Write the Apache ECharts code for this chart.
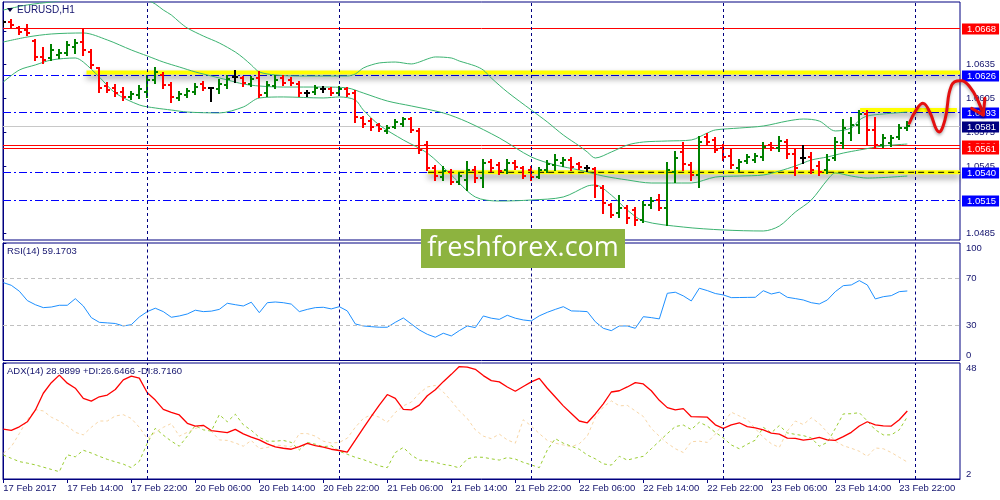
<!DOCTYPE html>
<html><head><meta charset="utf-8">
<script src="https://cdn.jsdelivr.net/npm/echarts@6/dist/echarts.min.js"></script>
<style>html,body{margin:0;padding:0;background:#fff}#c{width:1000px;height:500px}</style>
</head><body><div id="c"></div>
<script>
// ---------------- DATA ----------------
const symbolTitle = 'EURUSD,H1';
const rsiTitle = 'RSI(14) 59.1703';
const adxTitle = 'ADX(14) 28.9899 +DI:26.6466 -DI:8.7160';

const timeTickIndex = [0,8,16,24,32,40,48,56,64,72,80,88,96,104,112];
const timeTickLabels = ['17 Feb 2017','17 Feb 14:00','17 Feb 22:00','20 Feb 06:00','20 Feb 14:00','20 Feb 22:00','21 Feb 06:00','21 Feb 14:00','21 Feb 22:00','22 Feb 06:00','22 Feb 14:00','22 Feb 22:00','23 Feb 06:00','23 Feb 14:00','23 Feb 22:00'];
const dayBreakIndex = [18,42,66,90,114];

const priceTicks = [1.0485,1.0515,1.0545,1.0575,1.0605,1.0635,1.0665];
const rsiTicks = [0,30,70,100];
const rsiLevels = [30,70];
const adxTicks = [2,48];

const barOpen = [1.0673,1.0673,1.06676,1.06659,1.06561,1.06419,1.0641,1.06437,1.06454,1.06508,
1.06552,1.06463,1.06321,1.06161,1.06144,1.06108,1.06064,1.06081,1.06108,1.06215,
1.06259,1.0617,1.06055,1.06081,1.06108,1.06179,1.06144,1.06135,1.0617,1.06241,
1.06232,1.06179,1.06232,1.06099,1.06161,1.06232,1.06215,1.06179,1.06099,1.06108,
1.06135,1.06135,1.06099,1.06135,1.06099,1.05877,1.0585,1.05815,1.05762,1.05797,
1.05824,1.05868,1.05762,1.05637,1.05433,1.05353,1.05398,1.05309,1.05327,1.05415,
1.05344,1.05486,1.0546,1.05415,1.05477,1.05433,1.05415,1.05353,1.05415,1.0546,
1.05477,1.05504,1.05469,1.05433,1.05424,1.05256,1.05105,1.05034,1.05078,1.0506,
1.04971,1.05105,1.05149,1.05078,1.05398,1.05575,1.0546,1.05371,1.05708,1.05682,
1.05611,1.0554,1.05433,1.05495,1.05504,1.05531,1.05637,1.05611,1.05664,1.05557,
1.05522,1.05531,1.05451,1.05415,1.05522,1.05655,1.05744,1.05815,1.05913,1.05771,
1.05637,1.05655,1.05708,1.05788];
const barHigh = [1.06738,1.06747,1.06685,1.06703,1.0657,1.06499,1.06525,1.06481,1.06552,1.0657,
1.06659,1.06481,1.06321,1.06188,1.0617,1.06144,1.06108,1.06161,1.0625,1.06321,
1.06277,1.06188,1.06108,1.06135,1.06179,1.06197,1.06144,1.06215,1.0625,1.06295,
1.06241,1.06241,1.06286,1.06197,1.0625,1.0625,1.06232,1.06197,1.06117,1.06161,
1.06152,1.06144,1.06152,1.06144,1.06117,1.05886,1.05868,1.05824,1.05806,1.05859,
1.05877,1.05877,1.0578,1.05664,1.05451,1.05442,1.05415,1.05389,1.05486,1.05442,
1.05504,1.05504,1.05477,1.05504,1.05495,1.05442,1.05442,1.05433,1.05495,1.05548,
1.05522,1.05522,1.05477,1.05451,1.05433,1.05273,1.05113,1.05184,1.05096,1.05078,
1.05131,1.05167,1.05193,1.05477,1.05575,1.05655,1.05477,1.05708,1.05735,1.057,
1.05637,1.05593,1.05504,1.05548,1.05557,1.05655,1.05655,1.05708,1.05682,1.05593,
1.05628,1.05566,1.05486,1.05548,1.057,1.05859,1.05877,1.05939,1.05939,1.05877,
1.05726,1.05717,1.05815,1.05841];
const barLow = [1.06694,1.06685,1.06623,1.06614,1.06392,1.06366,1.06392,1.0641,1.06437,1.06454,
1.06437,1.06321,1.06108,1.06108,1.06073,1.06037,1.06046,1.06055,1.06064,1.06188,
1.06144,1.06019,1.06037,1.06064,1.0609,1.06126,1.06028,1.06099,1.06144,1.06197,
1.06161,1.06161,1.06064,1.06073,1.06144,1.0617,1.0617,1.06073,1.06073,1.0609,
1.06108,1.06081,1.06081,1.06073,1.05841,1.05797,1.05771,1.05762,1.05744,1.05788,
1.05806,1.05753,1.05566,1.05415,1.05327,1.05327,1.05291,1.05291,1.05238,1.05309,
1.05264,1.05406,1.05379,1.05389,1.05424,1.05344,1.05327,1.05344,1.05398,1.05415,
1.05451,1.05415,1.05424,1.05406,1.05176,1.05034,1.04998,1.04998,1.04945,1.04927,
1.04954,1.05078,1.0506,1.04927,1.05309,1.05415,1.05327,1.05264,1.05646,1.05575,
1.05504,1.05433,1.05406,1.05477,1.05486,1.05504,1.05593,1.05584,1.05522,1.05371,
1.05477,1.05389,1.05371,1.05389,1.05504,1.05611,1.05682,1.05744,1.05637,1.05619,
1.05619,1.05628,1.0569,1.05771];
const barClose = [1.0673,1.06703,1.06641,1.06632,1.06419,1.06392,1.06481,1.06454,1.06525,1.06543,
1.06481,1.06348,1.06144,1.06126,1.06099,1.06064,1.0609,1.06135,1.06215,1.06286,
1.0617,1.06064,1.0609,1.06117,1.06152,1.06144,1.06144,1.06179,1.06223,1.06241,
1.06188,1.06223,1.06081,1.0617,1.06215,1.06188,1.06188,1.06099,1.06099,1.06144,
1.06135,1.06099,1.06135,1.0609,1.05886,1.05824,1.05797,1.0578,1.05788,1.05841,
1.05868,1.05771,1.05593,1.05433,1.05362,1.05406,1.05309,1.05362,1.05415,1.05344,
1.05477,1.05433,1.05406,1.05477,1.05442,1.05362,1.05353,1.05415,1.05469,1.05504,
1.05504,1.05442,1.05442,1.05433,1.05273,1.05122,1.05016,1.05078,1.04989,1.04971,
1.05105,1.0514,1.05078,1.05415,1.05522,1.05469,1.05371,1.05664,1.05664,1.05593,
1.05531,1.0546,1.05486,1.05531,1.0554,1.0562,1.05611,1.05673,1.05557,1.05433,
1.05522,1.05415,1.05398,1.05504,1.05664,1.05788,1.05815,1.05913,1.05771,1.05637,
1.05699,1.05699,1.05788,1.0581];

const bbUpper = [[0,1.06836],[3,1.06881],[6,1.06907],[9,1.06934],[12,1.0696],[15,1.06969],[17,1.06952],[18,1.06925],[19,1.06889],[20,1.06836],[21,1.06792],[22,1.0673],[23,1.06676],[25,1.06605],[27,1.06543],[29,1.06463],[30,1.0641],[31,1.06348],[32,1.06286],[34,1.06259],[37,1.0625],[40,1.0625],[43,1.0625],[44,1.06268],[45,1.06321],[46,1.06348],[47,1.06366],[49,1.06374],[51,1.06357],[52,1.06374],[53,1.06401],[54,1.06419],[56,1.0641],[57,1.06383],[59,1.06339],[60,1.06303],[61,1.06232],[63,1.06108],[66,1.05948],[68,1.05842],[70,1.05726],[72,1.05629],[73,1.05575],[74,1.05522],[76,1.05575],[78,1.05637],[80,1.05664],[83,1.05673],[86,1.05682],[88,1.05744],[89,1.05771],[92,1.05788],[95,1.05806],[98,1.0585],[100,1.05868],[102,1.0585],[104,1.05762],[106,1.05788],[107,1.05859],[108,1.05895],[110,1.05913],[113,1.0593]];
const bbMiddle = [[0,1.06552],[3,1.06596],[6,1.06623],[10,1.06632],[13,1.0657],[16,1.06481],[18,1.06428],[20,1.06374],[22,1.0633],[24,1.06286],[26,1.0625],[28,1.06215],[30,1.06179],[32,1.06161],[35,1.06152],[40,1.06152],[43,1.06144],[45,1.06099],[48,1.06028],[51,1.05984],[55,1.05922],[58,1.05842],[62,1.057],[66,1.05531],[69,1.0546],[72,1.05415],[75,1.05362],[78,1.05327],[81,1.053],[86,1.053],[89,1.05353],[92,1.05362],[95,1.05371],[97,1.05406],[99,1.05451],[101,1.05504],[103,1.05531],[105,1.05566],[107,1.05593],[110,1.05629],[113,1.05646]];
const bbLower = [[0,1.06197],[2,1.06303],[4,1.06348],[6,1.06392],[9,1.0641],[10,1.06374],[12,1.06241],[14,1.06099],[17,1.05993],[19,1.05966],[21,1.05948],[23,1.0593],[27,1.05922],[30,1.05975],[32,1.06055],[35,1.06064],[40,1.06055],[42,1.06064],[44,1.06037],[45,1.05948],[47,1.05815],[50,1.05682],[53,1.05566],[56,1.05371],[59,1.05176],[62,1.0514],[66,1.05149],[70,1.05176],[73,1.05273],[74,1.05282],[76,1.05193],[78,1.0506],[80,1.04963],[85,1.04909],[90,1.04883],[95,1.04874],[97,1.04918],[99,1.05042],[101,1.05149],[103,1.05327],[104,1.05389],[106,1.05362],[108,1.05344],[113,1.05362]];

const redLevels = [1.0668, 1.0564, 1.0561];
const blueLevels = [1.0626, 1.0593, 1.0540, 1.0515];
const bidPrice = 1.0581;
// trendlines: [startIndex, startPrice, endIndex, endPrice]
const yellowTrend = [[10.4,1.0628,119.6,1.0628],[107.1,1.05948,119.2,1.05948],[53.1,1.05395,119.6,1.05395]];
const blackDashTrend = [[53.1,1.05395,119.6,1.05395]];
const arrowPath = [[113.25,1.0583],[114.1,1.05948],[115.0,1.06007],[115.8,1.0593],[116.9,1.05755],[117.7,1.05859],[118.55,1.0617],[119.8,1.06208],[120.8,1.06155],[121.8,1.06037],[122.5,1.05904]];
const arrowHead = [[121.05,1.05963],[122.5,1.05904],[122.7,1.06052]];

const rsi = [66.3,64,59,51,47.5,45,45.5,47,47,52.6,
46.4,36.5,32.5,32,31.5,29.4,30.5,37,41.6,44.5,
41.6,36.8,37.9,39.6,42.8,41.6,42,43.5,48.7,47.5,
46.4,49.6,40.7,49.2,49.8,49.2,48,41.6,43.5,45,
45.3,43.9,45.8,42.2,31.1,29.4,28.8,28.3,28.3,32.5,
36.2,31.1,26,22.3,19.8,23.2,20.9,25.4,29.4,28,
37.9,36,35,38.5,36,34.5,33.7,38,41,43.5,
45.8,42.2,42,41.6,33,27.4,25.4,29.4,29.4,27.4,
37.3,36.5,35.4,57.2,58.1,55,50.7,61.5,59.5,57,
55.8,53.5,53.6,53.7,53.8,59.4,56.6,58.1,53.8,52.7,
51.5,49.2,48.1,51.5,58.6,63.7,64.3,68,64.3,52.4,
54.3,55.2,58.6,59.17];
const adx = [21.8,21.3,22.7,24.7,29.3,36,40.2,43.2,40,38,
34,32.9,34.6,35.3,37.5,41.3,42.8,42,36.2,33.3,
29.6,28.4,27.4,24.1,23,23.3,21.2,20.8,20.4,21.7,
19.9,18.6,17.5,15.9,14.7,14.2,13.8,14.8,16.1,15.2,
14.6,13.8,13.3,12.7,17.4,22.2,26.8,31.3,35.5,34,
29.6,29.4,31.3,35,37.4,40.6,43.5,46.6,46.4,45.5,
43,41,40.5,38.5,36.8,38.7,40.5,41.9,38,34.5,
31,28,25,24.3,27.8,31.8,36.5,37,38.5,40.2,
39.7,37,33.2,30.3,29.4,29.9,26.7,26.6,26.5,23.5,
22.1,23.5,24.3,22.8,22.3,21.5,20.2,19.8,18.2,18.1,
17.4,17.8,18.5,17.5,17.3,18.8,20.5,23,24.7,23.5,
23.1,23,25.5,28.99];
const plusDI = [11.5,10.2,8.9,8.3,7.6,6.7,5.8,4.9,11.6,10.8,
13.4,12.3,11,9.8,8.8,7.9,6.5,9,16.2,22.1,
19.4,17,15,19,23.2,21.5,21,27.5,24.7,27.7,
23.5,21.3,18.5,17,17,17.3,16.5,13.5,16.5,15.8,
14.8,15.2,13,11.8,10.6,9.7,8.5,7.2,6.5,12.5,
14.5,11.5,9.5,9.2,8.6,7.8,7.3,6.4,10,10.7,
10.6,10,9.5,10.5,9.9,8.6,7.6,6.5,13.5,18,
16.2,15,13.8,11.5,10,8,7.5,11,9.5,10.3,
11,14,17,20,22.8,23.4,21.6,24.5,23,20.5,
18.3,15.5,14,15.8,17.4,22.5,20.3,23.2,20.3,19.7,
19.2,18.3,15,16.5,22,27.8,27.9,28.3,25,21.5,
19.5,19.5,21.5,26.65];
const minusDI = [12.2,14.8,20,25.5,29.5,29,26.5,25,23,20.5,
19.5,22.5,25,25,27,27.5,26,22.5,18,20.5,
22.5,24,19,20.5,22,23.2,21,17.5,17.3,16.3,
15,17.3,14,14.5,15.5,15.2,14.8,20,20,19,
17,16.3,16.5,18.2,22.5,26,27.5,26.5,24.5,28.4,
31,32.5,36,38.5,39.1,36.5,33,29,26,21.5,
19,18,19.8,17.5,16.2,25.5,23,20,17.3,16.2,
15.5,14.8,16,19,26.5,30.5,33,31,31.2,29,
26.8,22,19,16.2,14,12.5,16.8,17,16.5,19.8,
24,28.5,27,25.6,22,18.5,16,14.5,21,25,
23.6,26.3,24,20.5,17,15.2,14.2,13,11,14.3,
14,12.5,10.6,8.72];

// ---------------- STYLE / LAYOUT ----------------
const FONT = '"Liberation Sans", Arial, sans-serif';
const NAVY = '#000080';
const TXT = '#14146e';
const X_MIN = -0.0375, X_MAX = 119.5875;
const P_MIN = 1.04794, P_MAX = 1.06907;
const FS = 9.5;

const idx = a => a.map((v, i) => [i, v]);
const seg = t => [[t[0], t[1]], [t[2], t[3]]];

function dayBreakLine() {
  return {
    silent: true, symbol: 'none', animation: false, precision: 5,
    label: { show: false },
    lineStyle: { color: NAVY, type: [3, 3], width: 1 },
    data: dayBreakIndex.map(i => ({ xAxis: i }))
  };
}

// horizontal price levels: rows [price, kind]
const LEVEL_STYLE = {
  blue: { line: '#0000ff', dash: [8, 3, 2, 3], box: '#0000ff' },
  bid:  { line: '#c8c8c8', dash: null, box: '#000080' },
  red:  { line: '#ff0000', dash: null, box: '#ff0000' }
};
const levelRows = []
  .concat(blueLevels.map(v => [v, 'blue']))
  .concat([[bidPrice, 'bid']])
  .concat(redLevels.map(v => [v, 'red']));

function renderLevel(params, api) {
  const cs = params.coordSys;
  const row = levelRows[params.dataIndex];
  const st = LEVEL_STYLE[row[1]];
  const y = Math.round(api.coord([0, row[0]])[1]) + 0.5;
  return { type: 'group', children: [
    { type: 'line', shape: { x1: cs.x, y1: y, x2: cs.x + cs.width, y2: y },
      style: { stroke: st.line, lineWidth: 1, lineDash: st.dash, fill: null } },
    { type: 'text', x: cs.x + cs.width + 2, y: Math.round(y),
      style: { text: row[0].toFixed(4), fill: '#ffffff', backgroundColor: st.box, padding: [1, 3, 0, 5],
        fontSize: FS, fontFamily: FONT, verticalAlign: 'middle', align: 'left' } }
  ]};
}

const bars = barOpen.map((o, i) => [i, o, barHigh[i], barLow[i], barClose[i]]);

function renderBar(params, api) {
  const i = api.value(0), o = api.value(1), h = api.value(2), l = api.value(3), c = api.value(4);
  const ph = api.coord([i, h]), pl = api.coord([i, l]), po = api.coord([i, o]), pc = api.coord([i, c]);
  const x = Math.round(ph[0]);
  const col = c > o ? '#008000' : (c < o ? '#ff0000' : '#000000');
  const st = { stroke: col, lineWidth: 2, fill: null };
  const yo = Math.round(po[1]), yc = Math.round(pc[1]);
  return { type: 'group', children: [
    { type: 'line', shape: { x1: x, y1: Math.round(ph[1]) - 1, x2: x, y2: Math.round(pl[1]) + 1 }, style: st },
    { type: 'line', shape: { x1: x - 3, y1: yo, x2: x, y2: yo }, style: st },
    { type: 'line', shape: { x1: x, y1: yc, x2: x + 3, y2: yc }, style: st }
  ]};
}

function renderArrow(params, api) {
  const arrowStyle = { stroke: '#e41010', lineWidth: 3, fill: null, lineCap: 'round', lineJoin: 'round',
    shadowColor: 'rgba(0,0,0,0.3)', shadowBlur: 3, shadowOffsetY: 2 };
  return { type: 'group', children: [
    { type: 'polyline', shape: { points: arrowPath.map(p => api.coord(p)), smooth: 0.45 }, style: arrowStyle },
    { type: 'polyline', shape: { points: arrowHead.map(p => api.coord(p)) }, style: arrowStyle }
  ]};
}

const bandStyle = { type: 'line', xAxisIndex: 0, yAxisIndex: 0, showSymbol: false, symbol: 'none', smooth: 0.3,
  lineStyle: { color: '#3cb371', width: 1 }, silent: true, animation: false, z: 3 };

const series = [
  { type: 'custom', xAxisIndex: 0, yAxisIndex: 0, data: levelRows.map(r => [0, r[0]]), encode: { x: 0, y: 1 },
    renderItem: renderLevel, clip: false, z: 1, silent: true },
  { type: 'line', xAxisIndex: 0, yAxisIndex: 0, data: [[0, bidPrice]], showSymbol: false, symbol: 'none', lineStyle: { opacity: 0 }, silent: true, z: 1,
    markLine: dayBreakLine() },
  Object.assign({}, bandStyle, { data: bbUpper }),
  Object.assign({}, bandStyle, { data: bbMiddle }),
  Object.assign({}, bandStyle, { data: bbLower })
];
yellowTrend.forEach(t => series.push({ type: 'line', xAxisIndex: 0, yAxisIndex: 0, data: seg(t), showSymbol: false, symbol: 'none', silent: true, z: 2,
  lineStyle: { color: '#ffff00', width: 4, shadowColor: 'rgba(0,0,0,0.45)', shadowBlur: 6, shadowOffsetY: 4 } }));
blackDashTrend.forEach(t => series.push({ type: 'line', xAxisIndex: 0, yAxisIndex: 0, data: seg(t), showSymbol: false, symbol: 'none', silent: true, z: 2,
  lineStyle: { color: '#000000', width: 1, type: [6, 4] } }));
series.push({ type: 'custom', xAxisIndex: 0, yAxisIndex: 0, data: bars, encode: { x: 0, y: [1, 2, 3, 4] }, renderItem: renderBar, clip: true, z: 4, silent: true });
series.push({ type: 'custom', xAxisIndex: 0, yAxisIndex: 0, data: [arrowPath[0]], encode: { x: 0, y: 1 }, renderItem: renderArrow, clip: false, z: 20, silent: true });
series.push({ type: 'line', xAxisIndex: 1, yAxisIndex: 1, data: idx(rsi), showSymbol: false, symbol: 'none', silent: true,
  lineStyle: { color: '#1e90ff', width: 1 },
  markLine: { silent: true, symbol: 'none', animation: false, precision: 5, label: { show: false },
    data: rsiLevels.map(v => ({ yAxis: v, lineStyle: { color: '#c0c0c0', type: [4, 3], width: 1 } }))
      .concat(dayBreakIndex.map(i => ({ xAxis: i, lineStyle: { color: NAVY, type: [3, 3], width: 1 } }))) } });
series.push({ type: 'line', xAxisIndex: 2, yAxisIndex: 2, data: idx(minusDI), showSymbol: false, symbol: 'none', silent: true,
  lineStyle: { color: '#f8d6a6', width: 1, type: [3, 3] }, markLine: dayBreakLine() });
series.push({ type: 'line', xAxisIndex: 2, yAxisIndex: 2, data: idx(plusDI), showSymbol: false, symbol: 'none', silent: true,
  lineStyle: { color: '#9acd32', width: 1, type: [3, 3] } });
series.push({ type: 'line', xAxisIndex: 2, yAxisIndex: 2, data: idx(adx), showSymbol: false, symbol: 'none', silent: true,
  lineStyle: { color: '#ff0000', width: 1.3 } });

function hiddenX(g) { return { gridIndex: g, type: 'value', min: X_MIN, max: X_MAX, show: false }; }
const lblBase = { color: TXT, fontSize: FS, fontFamily: FONT };

const option = {
  animation: false,
  backgroundColor: '#ffffff',
  grid: [
    { left: 3, top: 2, width: 957, height: 238, show: true, borderColor: NAVY, borderWidth: 1 },
    { left: 3, top: 243, width: 957, height: 117.5, show: true, borderColor: NAVY, borderWidth: 1 },
    { left: 3, top: 363, width: 957, height: 116, show: true, borderColor: NAVY, borderWidth: 1 }
  ],
  xAxis: [ hiddenX(0), hiddenX(1), {
    gridIndex: 2, type: 'value', min: X_MIN, max: X_MAX, position: 'bottom',
    axisLine: { show: true, lineStyle: { color: NAVY } },
    axisTick: { show: true, customValues: timeTickIndex, length: 4, lineStyle: { color: NAVY } },
    axisLabel: Object.assign({ customValues: timeTickIndex, align: 'left', margin: 4,
      formatter: v => { const k = timeTickIndex.indexOf(Math.round(v)); return k >= 0 ? timeTickLabels[k] : ''; } }, lblBase),
    splitLine: { show: false }
  }],
  yAxis: [
    { gridIndex: 0, type: 'value', position: 'right', min: P_MIN, max: P_MAX,
      axisLine: { show: true, lineStyle: { color: NAVY } },
      axisTick: { show: true, customValues: priceTicks, length: 3, lineStyle: { color: NAVY } },
      axisLabel: Object.assign({ customValues: priceTicks, margin: 6, formatter: v => v.toFixed(4) }, lblBase),
      splitLine: { show: false } },
    { gridIndex: 1, type: 'value', position: 'right', min: 0, max: 100,
      axisLine: { show: true, lineStyle: { color: NAVY } },
      axisTick: { show: true, customValues: rsiTicks, length: 3, lineStyle: { color: NAVY } },
      axisLabel: Object.assign({ customValues: rsiTicks, margin: 6,
        formatter: v => v === 100 ? '\n100' : (v === 0 ? '0\n' : String(v)) }, lblBase),
      splitLine: { show: false } },
    { gridIndex: 2, type: 'value', position: 'right', min: 2, max: 48,
      axisLine: { show: true, lineStyle: { color: NAVY } },
      axisTick: { show: true, customValues: adxTicks, length: 3, lineStyle: { color: NAVY } },
      axisLabel: Object.assign({ customValues: adxTicks, margin: 6,
        formatter: v => v === 48 ? '\n48' : (v === 2 ? '2\n' : String(v)) }, lblBase),
      splitLine: { show: false } }
  ],
  graphic: [
    { type: 'polygon', z: 50, shape: { points: [[7, 8], [13, 8], [10, 12]] }, style: { fill: '#000040' } },
    { type: 'text', z: 50, left: 17, top: 5, style: { text: symbolTitle, fontSize: 10, fontFamily: FONT, fill: TXT } },
    { type: 'text', z: 50, left: 7, top: 246, style: { text: rsiTitle, fontSize: FS, fontFamily: FONT, fill: TXT } },
    { type: 'text', z: 50, left: 7, top: 366, style: { text: adxTitle, fontSize: FS, fontFamily: FONT, fill: TXT } },
    { type: 'group', left: 421, top: 229, z: 100, children: [
      { type: 'rect', z: 100, shape: { x: 0, y: 0, width: 204, height: 39 }, style: { fill: '#8db33f' } },
      { type: 'text', z: 101, x: 102, y: 19, style: { text: 'freshforex.com', fontSize: 27, fontFamily: '"Open Sans", sans-serif', fill: '#ffffff', align: 'center', verticalAlign: 'middle' } }
    ]}
  ],
  series: series
};

const chart = echarts.init(document.getElementById('c'), null, { renderer: 'canvas' });
chart.setOption(option);
</script>
</body></html>
